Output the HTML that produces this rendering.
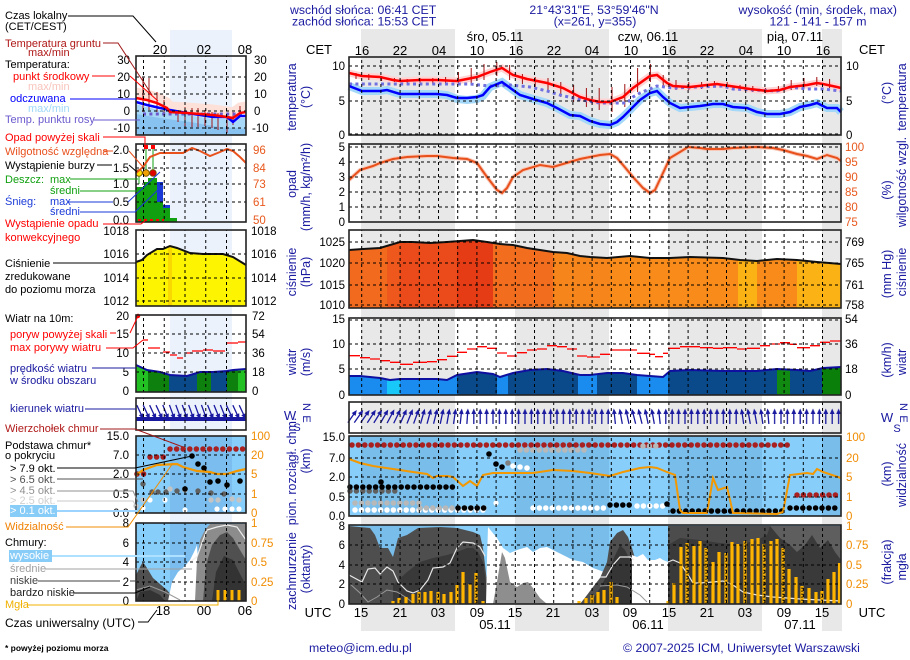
<!DOCTYPE html>
<html><head><meta charset="utf-8">
<style>
html,body{margin:0;padding:0;background:#fff;}
svg{display:block;font-family:"Liberation Sans",Arial,sans-serif;}
.lg{font-size:11px}
.tk{font-size:11.5px}
.ax{font-size:13px}
.hd{font-size:12.3px;fill:#1a1aa0}
.rt{font-size:12.5px;fill:#1a1aa0}
.og{fill:#f08c00}
.oh{fill:#e8581c}
</style></head><body>
<svg width="910" height="660" viewBox="0 0 910 660" xmlns="http://www.w3.org/2000/svg">
<defs>
 <pattern id="vg" x="361.2" y="0" width="19.2" height="6" patternUnits="userSpaceOnUse"><rect x="0" y="0" width="1" height="3" fill="#000"/></pattern>
 <pattern id="vgl" x="143" y="0" width="20.75" height="6" patternUnits="userSpaceOnUse"><rect x="0" y="0" width="1" height="3" fill="#000"/></pattern>
 <pattern id="av" x="349" y="402" width="6.4" height="31" patternUnits="userSpaceOnUse"><line x1="3.2" y1="9.5" x2="3.2" y2="22" stroke="#1a1aa0" stroke-width="1.3"/><path d="M3.2,6.5 L0.8,12 L5.6,12 z" fill="#1a1aa0"/></pattern>
 <g id="ar"><line x1="0" y1="7.5" x2="0" y2="-5" stroke="#1a1aa0" stroke-width="1.3"/><path d="M0,-8 L-2.4,-2.5 L2.4,-2.5z" fill="#1a1aa0"/></g>
 <clipPath id="cp"><polygon points="349,250 363,249 380,248 390,245 400,242 413,242 430,243 447,242 460,241 473,240 480,241 487,242 500,244 513,245 527,248 540,250 553,252 567,253 580,256 590,257 607,258 630,256 650,258 670,258 690,257 723,258 740,260 757,261 777,259 797,260 817,262 841,264 841,308 349,308"/></clipPath>
 <clipPath id="cw"><polygon points="349,376 360,376 380,378 390,380 400,379 420,379 437,379 447,380 457,375 477,372 493,374 500,377 513,373 530,370 547,369 563,371 580,375 590,375 607,373 623,373 637,375 650,376 663,377 670,371 690,370 723,371 757,371 777,369 797,370 810,371 823,368 841,367 841,395 349,395"/></clipPath>
 <clipPath id="clw"><polygon points="136,365 147,370 160,372 170,375 187,376 200,372 213,372 227,371 233,370 246,369 246,392 136,392"/></clipPath>
</defs>

<!-- background bands -->
<rect x="361" y="29" width="94" height="602" fill="#e8e8e8"/>
<rect x="515" y="29" width="94" height="602" fill="#e8e8e8"/>
<rect x="668" y="29" width="94" height="602" fill="#e8e8e8"/>
<rect x="822" y="29" width="20" height="602" fill="#e8e8e8"/>
<rect x="170" y="30" width="62" height="568" fill="#ebf2fc"/>

<!-- HEADER -->
<text class="hd" x="290" y="14">wschód słońca: 06:41 CET</text>
<text class="hd" x="292" y="25.5">zachód słońca: 15:53 CET</text>
<text class="hd" x="594" y="14" text-anchor="middle">21°43'31"E, 53°59'46"N</text>
<text class="hd" x="595" y="25.5" text-anchor="middle">(x=261,  y=355)</text>
<text class="hd" x="897" y="14" text-anchor="end">wysokość (min, środek, max)</text>
<text class="hd" x="818" y="25.5" text-anchor="middle">121 - 141 - 157 m</text>

<!-- top axis -->
<g class="ax" text-anchor="middle">
<text x="319" y="54">CET</text><text x="872" y="54">CET</text>
<text x="495" y="41">śro, 05.11</text><text x="648" y="41">czw, 06.11</text><text x="795" y="41">pią, 07.11</text>
<text x="362" y="55">16</text><text x="400" y="55">22</text><text x="439" y="55">04</text><text x="477" y="55">10</text><text x="516" y="55">16</text><text x="554" y="55">22</text><text x="592" y="55">04</text><text x="631" y="55">10</text><text x="669" y="55">16</text><text x="707" y="55">22</text><text x="746" y="55">04</text><text x="784" y="55">10</text><text x="823" y="55">16</text>
</g>

<!-- ========== MAIN P1 temperature ========== -->
<polyline fill="none" stroke="#ffd4d4" stroke-width="7" points="349,73 362,76 380,77 393,80 400,81 420,80 437,80 457,81 477,77 490,72 502,68 513,75 527,79 547,83 563,88 580,97 590,100 600,102 610,102 623,97 633,88 650,76 657,75 667,83 673,86 690,87 707,85 717,84 730,86 750,89 767,91 780,90 790,87 807,85 817,83 823,84 837,87 841,88"/>
<polyline fill="none" stroke="#a4d8f8" stroke-width="8" points="349,86 362,91 380,91 387,90 400,94 420,94 437,94 447,95 457,99 467,100 477,99 483,96 490,87 502,82 513,90 520,95 533,99 547,103 557,108 570,115 580,116 590,121 600,124 610,125 617,122 623,117 630,110 640,100 650,93 657,91 663,97 670,103 680,108 690,107 700,106 707,105 713,104 723,104 733,107 747,108 757,112 767,114 780,114 790,112 800,107 810,105 817,103 827,108 837,108 841,112"/>
<path fill="none" stroke="#a01010" stroke-width="1" d="M356 73V79M368.8 74V80M381.6 76V81M394.4 78V82M407.2 79V83M420 78V83M432.8 78V84M445.6 77V84M458.4 72V85M471.2 68V84M484 64V80M496.8 62V76M509.6 65V80M522.4 74V84M535.2 77V87M548 78V92M560.8 82V97M573.6 85V102M586.4 88V107M599.2 88V110M612 87V112M624.8 84V107M637.6 68V92M650.4 64V82M663.2 75V88M676 80V90M688.8 82V90M701.6 82V89M714.4 81V87M727.2 82V88M740 85V90M752.8 86V92M765.6 88V93M778.4 86V92M791.2 80V90M804 78V88M816.8 77V86M829.6 79V88"/>
<polyline fill="none" stroke="#7070e0" stroke-width="3" stroke-dasharray="3 3.4" points="349,84 470,84 490,86 510,85 530,87 547,91 560,95 573,98 587,101 600,103 627,103 633,97 640,93 657,86 673,88 723,86 733,89 777,91 790,87 807,89 823,89 841,91"/>
<polyline fill="none" stroke="#0000ff" stroke-width="2.5" points="349,86 362,91 380,91 387,90 400,94 420,94 437,94 447,95 457,98 467,98 477,97 483,95 490,87 502,82 513,90 520,95 533,99 547,103 557,108 570,115 580,116 590,121 600,124 610,125 617,122 623,117 630,110 640,100 650,93 657,91 663,97 670,103 680,108 690,107 700,106 707,105 713,104 723,104 733,107 747,108 757,112 767,114 780,114 790,112 800,107 810,105 817,103 827,108 837,108 841,112"/>
<polyline fill="none" stroke="#ff0000" stroke-width="2.5" points="349,73 362,76 380,77 393,80 400,81 420,80 437,80 457,81 477,77 490,72 502,68 513,75 527,79 547,83 563,88 580,97 590,100 600,102 610,102 623,97 633,88 650,76 657,75 667,83 673,86 690,87 707,85 717,84 730,86 750,89 767,91 780,90 790,87 807,85 817,83 823,84 837,87 841,88"/>

<!-- P2 humidity -->
<polyline fill="none" stroke="#f8c8b8" stroke-width="4" points="349,180 360,170 373,166 380,163 393,159 407,157 427,156 437,156 453,158 467,159 477,163 487,177 497,190 502,193 507,188 513,177 523,170 540,165 553,167 563,164 580,159 590,157 600,155 610,154 617,158 623,165 633,177 643,188 650,193 655,190 663,173 670,158 680,152 688,147 700,148 707,149 723,149 733,148 757,147 773,148 783,150 797,154 807,156 817,159 827,155 837,158 841,161"/>
<polyline fill="none" stroke="#e8501c" stroke-width="2" points="349,180 360,170 373,166 380,163 393,159 407,157 427,156 437,156 453,158 467,159 477,163 487,177 497,190 502,193 507,188 513,177 523,170 540,165 553,167 563,164 580,159 590,157 600,155 610,154 617,158 623,165 633,177 643,188 650,193 655,190 663,173 670,158 680,152 688,147 700,148 707,149 723,149 733,148 757,147 773,148 783,150 797,154 807,156 817,159 827,155 837,158 841,161"/>

<!-- P3 pressure -->
<g clip-path="url(#cp)">
<rect x="349" y="230" width="38" height="78" fill="#f26a1e"/>
<rect x="387" y="230" width="13" height="78" fill="#ee581c"/>
<rect x="400" y="230" width="57" height="78" fill="#eb4a1a"/>
<rect x="457" y="230" width="36" height="78" fill="#e63c16"/>
<rect x="493" y="230" width="60" height="78" fill="#f26e1e"/>
<rect x="553" y="230" width="57" height="78" fill="#f6861c"/>
<rect x="610" y="230" width="128" height="78" fill="#f98b1a"/>
<rect x="738" y="230" width="19" height="78" fill="#fbb214"/>
<rect x="757" y="230" width="40" height="78" fill="#f98b1a"/>
<rect x="797" y="230" width="44" height="78" fill="#fbb214"/>
</g>
<polyline fill="none" stroke="#111" stroke-width="2" points="349,250 363,249 380,248 390,245 400,242 413,242 430,243 447,242 460,241 473,240 480,241 487,242 500,244 513,245 527,248 540,250 553,252 567,253 580,256 590,257 607,258 630,256 650,258 670,258 690,257 723,258 740,260 757,261 777,259 797,260 817,262 841,264"/>

<!-- P4 wind -->
<g clip-path="url(#cw)">
<rect x="349" y="360" width="38" height="35" fill="#1a8cf0"/>
<rect x="387" y="360" width="13" height="35" fill="#18c8f8"/>
<rect x="400" y="360" width="57" height="35" fill="#1a8cf0"/>
<rect x="457" y="360" width="40" height="35" fill="#0a4a8a"/>
<rect x="497" y="360" width="11" height="35" fill="#1a8cf0"/>
<rect x="508" y="360" width="70" height="35" fill="#0a4a8a"/>
<rect x="578" y="360" width="19" height="35" fill="#1a8cf0"/>
<rect x="597" y="360" width="40" height="35" fill="#0a4a8a"/>
<rect x="637" y="360" width="31" height="35" fill="#1a8cf0"/>
<rect x="668" y="360" width="109" height="35" fill="#0a4a8a"/>
<rect x="777" y="360" width="13" height="35" fill="#108a10"/>
<rect x="790" y="360" width="32" height="35" fill="#0a4a8a"/>
<rect x="822" y="360" width="19" height="35" fill="#0a800a"/>
</g>
<polyline fill="none" stroke="#1010a0" stroke-width="2" points="349,376 360,376 380,378 390,380 400,379 420,379 437,379 447,380 457,375 477,372 493,374 500,377 513,373 530,370 547,369 563,371 580,375 590,375 607,373 623,373 637,375 650,376 663,377 670,371 690,370 723,371 757,371 777,369 797,370 810,371 823,368 841,367"/>
<path fill="none" stroke="#ff0000" stroke-width="1.3" d="M349 355.7H360M360 357.7H370M370 359H380M380 360.7H390M390 362.3H400M400 364.3H413M413 362.3H427M427 361.7H437M437 359.7H447M447 356.3H457M457 352.3H467M467 349H477M477 346.7H487M487 348.3H497M497 353H507M507 356H517M517 352.7H527M527 350H537M537 349H547M547 345.7H557M557 346.7H567M567 349H577M577 356H587M587 357H600M600 354.3H610M610 350H637M637 353.3H650M650 354.3H655M655 356.7H663M663 353.3H668M668 348.3H680M680 346.7H700M700 347.7H713M713 348.3H723M723 347.7H737M737 349H747M747 348.3H760M760 345.7H770M770 344H780M780 342.7H790M790 344.3H797M797 347.7H810M810 345.7H820M820 342.3H830M830 341H841"/>

<!-- P5 wind direction -->
<rect x="470.6" y="402" width="140.8" height="31" fill="url(#av)"/>
<rect x="662.6" y="402" width="76.8" height="31" fill="url(#av)"/>
<rect x="771.4" y="402" width="69.6" height="31" fill="url(#av)"/>
<use href="#ar" transform="translate(352.2,416.5) rotate(35)"/><use href="#ar" transform="translate(358.6,416.5) rotate(35)"/><use href="#ar" transform="translate(365,416.5) rotate(35)"/><use href="#ar" transform="translate(371.4,416.5) rotate(33)"/><use href="#ar" transform="translate(377.8,416.5) rotate(32)"/><use href="#ar" transform="translate(384.2,416.5) rotate(30)"/><use href="#ar" transform="translate(390.6,416.5) rotate(28)"/><use href="#ar" transform="translate(397,416.5) rotate(26)"/><use href="#ar" transform="translate(403.4,416.5) rotate(24)"/><use href="#ar" transform="translate(409.8,416.5) rotate(22)"/><use href="#ar" transform="translate(416.2,416.5) rotate(20)"/>
<use href="#ar" transform="translate(422.6,416.5) rotate(16)"/><use href="#ar" transform="translate(429,416.5) rotate(15)"/><use href="#ar" transform="translate(435.4,416.5) rotate(14)"/><use href="#ar" transform="translate(441.8,416.5) rotate(12)"/><use href="#ar" transform="translate(448.2,416.5) rotate(10)"/><use href="#ar" transform="translate(454.6,416.5) rotate(8)"/><use href="#ar" transform="translate(461,416.5) rotate(6)"/><use href="#ar" transform="translate(467.4,416.5) rotate(4)"/>
<use href="#ar" transform="translate(614.6,416.5) rotate(-6)"/><use href="#ar" transform="translate(621,416.5) rotate(-10)"/><use href="#ar" transform="translate(627.4,416.5) rotate(-12)"/><use href="#ar" transform="translate(633.8,416.5) rotate(-14)"/><use href="#ar" transform="translate(640.2,416.5) rotate(-14)"/><use href="#ar" transform="translate(646.6,416.5) rotate(-12)"/><use href="#ar" transform="translate(653,416.5) rotate(-10)"/><use href="#ar" transform="translate(659.4,416.5) rotate(-6)"/>
<use href="#ar" transform="translate(742.6,416.5) rotate(-8)"/><use href="#ar" transform="translate(749,416.5) rotate(-10)"/><use href="#ar" transform="translate(755.4,416.5) rotate(-10)"/><use href="#ar" transform="translate(761.8,416.5) rotate(-8)"/><use href="#ar" transform="translate(768.2,416.5) rotate(-5)"/>

<!-- P6 cloud base -->
<rect x="349" y="436" width="492" height="80" fill="#87cefa"/>
<g fill="#79bdea"><rect x="361" y="436" width="94" height="80"/><rect x="515" y="436" width="94" height="80"/><rect x="668" y="436" width="94" height="80"/><rect x="822" y="436" width="19" height="80"/></g>
<g fill="none" stroke-linecap="round" stroke-width="5.5" stroke-dasharray="0 6.4">
<line x1="352" y1="445" x2="790" y2="445" stroke="#a82020"/>
<line x1="797" y1="495" x2="841" y2="495" stroke="#a82020"/>
<line x1="355" y1="510" x2="485" y2="510" stroke="#ffffff"/>
<line x1="355" y1="503" x2="420" y2="503" stroke="#b8b8b8"/>
<line x1="420" y1="508" x2="489" y2="508" stroke="#b8b8b8"/>
<line x1="350" y1="491" x2="395" y2="491" stroke="#606060"/>
<line x1="350" y1="487" x2="458" y2="487" stroke="#000"/>
<line x1="458" y1="508" x2="484" y2="508" stroke="#000"/>
<line x1="520" y1="450" x2="586" y2="450" stroke="#b8b8b8"/>
<line x1="533" y1="508" x2="604" y2="508" stroke="#ffffff"/>
<line x1="610" y1="505" x2="630" y2="505" stroke="#000"/>
<line x1="637" y1="506" x2="663" y2="506" stroke="#ffffff"/>
<line x1="643" y1="446" x2="660" y2="446" stroke="#b8b8b8"/>
<line x1="673" y1="511" x2="784" y2="511" stroke="#000"/>
<line x1="790" y1="508" x2="841" y2="508" stroke="#000"/>
</g>
<g fill="#000"><circle cx="489" cy="454" r="2.8"/><circle cx="496" cy="464" r="2.8"/><circle cx="502" cy="467" r="2.8"/><circle cx="667" cy="504" r="2.8"/><circle cx="381" cy="482" r="2.8"/></g>
<circle cx="508" cy="463" r="2.8" fill="#808080"/>
<g fill="#fff"><circle cx="513" cy="466" r="2.8"/><circle cx="520" cy="467" r="2.8"/><circle cx="527" cy="468" r="2.8"/><circle cx="496" cy="503" r="2.6"/></g>
<polyline fill="none" stroke="#f39800" stroke-width="2" points="349,459 360,463 373,466 393,469 413,472 427,474 433,478 437,476 447,476 453,477 463,486 470,481 477,486 483,475 493,473 513,473 533,473 553,470 573,471 590,473 610,476 623,472 640,468 650,467 657,468 667,472 675,475 680,510 683,513 707,513 713,478 718,490 727,487 733,513 777,514 783,512 790,475 807,473 813,474 817,469 823,472 841,478"/>

<!-- P7 cloud cover -->
<rect x="349" y="525" width="492" height="79" fill="#87cefa"/>
<g fill="#79bdea"><rect x="361" y="525" width="94" height="79"/><rect x="515" y="525" width="94" height="79"/></g>
<polygon fill="#4e4e4e" points="349,526 370,528 375,535 380,548 388,548 393,557 398,538 407,535 418,528 440,527 457,528 473,532 480,535 483,548 487,582 488,604 349,604"/>
<polygon fill="#393939" points="393,604 393,585 407,572 420,562 433,558 447,555 457,552 467,548 473,548 478,552 483,562 487,590 488,604"/>
<polygon fill="#ffffff" points="486,604 487,560 488,527 492,532 497,538 503,548 510,553 517,550 527,547 533,552 540,548 547,547 557,552 567,557 573,560 583,562 593,568 607,573 607,604"/>
<polygon fill="#8e8e8e" points="493,604 497,582 502,552 505,558 510,582 517,587 523,583 528,582 533,588 540,598 547,604"/>
<polygon fill="#4e4e4e" points="580,604 587,595 593,587 600,578 607,562 610,542 617,533 623,530 628,537 632,548 637,565 640,582 643,595 647,604"/>
<polygon fill="#353535" points="590,604 600,588 607,575 613,560 620,545 625,550 630,560 635,575 640,592 642,604"/>
<polygon fill="#ffffff" points="632,604 632,555 637,557 643,554 648,560 655,560 660,558 663,560 668,562 668,604"/>
<rect x="668" y="526" width="173" height="78" fill="#3a3a3a"/>
<polygon fill="#4c4c4c" points="668,526 770,526 767,535 757,540 740,545 720,543 700,540 680,538 668,545"/>
<polygon fill="#5e5e5e" points="770,526 841,526 841,560 835,552 828,540 820,548 812,535 805,545 797,552 790,545 780,538"/>
<path fill="none" stroke="#e8e8e8" stroke-width="1.2" d="M349 575L362 582L368 569L375 568L380 574L387 567L393 571L398 582L407 591L413 593L420 590L428 580L433 568L443 567L450 563L457 548L463 542L473 543L480 547L485 556M600 577L606 577L613 565L620 557L630 557L634 560M668 562L673 560L680 563L687 573L693 583L700 583L713 582L723 581L733 585L743 592L757 595L773 597L787 598L800 599L841 601"/>
<path fill="none" stroke="#9a9a9a" stroke-width="1" d="M349 583L360 593L368 602L377 597L387 590L397 592L407 598L413 603M600 586L617 585L627 587L640 595L647 602"/>
<path fill="none" stroke="#ffb400" stroke-width="3.2" d="M393 604V601M399 604V598M406 604V597M413 604V594M419 604V592M425 604V592M431 604V591M438 604V592M444 604V594M451 604V592M457 604V585M463 604V572M470 604V584M476 604V573M483 604V601M579 604V601M586 604V598M592 604V595M598 604V592M604 604V590M611 604V582M617 604V597M668 604V601M674 604V583M681 604V547M687 604V543M694 604V546M700 604V541M706 604V548M713 604V562M719 604V552M726 604V553M732 604V542M738 604V544M745 604V541M752 604V539M758 604V538M764 604V544M771 604V541M777 604V539M783 604V548M789 604V569M796 604V577M802 604V586M809 604V588M816 604V592M822 604V591M828 604V579M834 604V572M839.5 604V563"/>
<path fill="none" stroke="#000" stroke-width="1" stroke-dasharray="1.5 1.5" d="M419 604V593M438 604V593M476 604V574M592 604V596M611 604V583M687 604V544M706 604V549M726 604V554M745 604V542M764 604V545M783 604V549M802 604V587M822 604V592"/>

<!-- main grids -->
<g>
<rect x="349" y="57" width="492" height="78" fill="url(#vg)"/>
<rect x="349" y="144" width="492" height="78" fill="url(#vg)"/>
<rect x="349" y="230" width="492" height="78" fill="url(#vg)"/>
<rect x="349" y="318" width="492" height="77" fill="url(#vg)"/>
<rect x="349" y="402" width="492" height="31" fill="url(#vg)"/>
<rect x="349" y="436" width="492" height="80" fill="url(#vg)"/>
<rect x="349" y="525" width="492" height="79" fill="url(#vg)"/>
</g>
<path fill="none" stroke="#000" stroke-width="1" stroke-dasharray="3 3" d="M349 66H841M349 101H841M349 134H841M349 147H841M349 162H841M349 177H841M349 192H841M349 207H841M349 242H841M349 263H841M349 285H841M349 305H841M349 320H841M349 344H841M349 369H841M349 458H841M349 477H841M349 497H841M349 545H841M349 565H841M349 584H841"/>
<g fill="none" stroke="#222" stroke-width="1.6">
<rect x="349" y="57" width="492" height="78"/>
<rect x="349" y="144" width="492" height="78"/>
<rect x="349" y="230" width="492" height="78"/>
<rect x="349" y="318" width="492" height="77"/>
<rect x="349" y="402" width="492" height="31"/>
<rect x="349" y="436" width="492" height="80"/>
<rect x="349" y="525" width="492" height="79"/>
</g>

<!-- main tick labels left -->
<g class="tk" text-anchor="end">
<text x="345" y="70">10</text><text x="345" y="105">5</text><text x="345" y="139">0</text>
<text x="345" y="151">5</text><text x="345" y="166">4</text><text x="345" y="181">3</text><text x="345" y="196">2</text><text x="345" y="211">1</text><text x="345" y="226">0</text>
<text x="345" y="246">1025</text><text x="345" y="267">1020</text><text x="345" y="289">1015</text><text x="345" y="309">1010</text>
<text x="345" y="323">15</text><text x="345" y="348">10</text><text x="345" y="373">5</text><text x="345" y="399">0</text>
<text x="345" y="441">15.0</text><text x="345" y="462">7.0</text><text x="345" y="481">2.0</text><text x="345" y="501">0.5</text><text x="345" y="520">0.0</text>
<text x="345" y="530">8</text><text x="345" y="549">6</text><text x="345" y="569">4</text><text x="345" y="588">2</text><text x="345" y="608">0</text>
</g>
<!-- main tick labels right -->
<g class="tk">
<text x="846" y="70">10</text><text x="846" y="105">5</text><text x="846" y="139">0</text>
<g class="oh"><text x="845" y="151">100</text><text x="845" y="166">95</text><text x="845" y="181">90</text><text x="845" y="196">85</text><text x="845" y="211">80</text><text x="845" y="226">75</text></g>
<text x="845" y="246">769</text><text x="845" y="267">765</text><text x="845" y="289">761</text><text x="845" y="309">758</text>
<text x="845" y="323">54</text><text x="845" y="348">36</text><text x="845" y="373">18</text><text x="845" y="399">0</text>
<g class="og"><text x="846" y="441">100</text><text x="846" y="462">20</text><text x="846" y="481">5</text><text x="846" y="501">1</text><text x="846" y="520">0</text>
<text x="846" y="530">1</text><text x="846" y="549">0.75</text><text x="846" y="569">0.5</text><text x="846" y="588">0.25</text><text x="846" y="608">0</text></g>
</g>

<!-- rotated titles left -->
<g class="rt" text-anchor="middle">
<text transform="translate(296,97) rotate(-90)">temperatura</text>
<text transform="translate(310,97) rotate(-90)">(°C)</text>
<text transform="translate(296,184) rotate(-90)">opad</text>
<text transform="translate(310,187) rotate(-90)">(mm/h, kg/m²/h)</text>
<text transform="translate(296,272) rotate(-90)">ciśnienie</text>
<text transform="translate(310,272) rotate(-90)">(hPa)</text>
<text transform="translate(296,362) rotate(-90)">wiatr</text>
<text transform="translate(310,362) rotate(-90)">(m/s)</text>
<text transform="translate(310,461) rotate(-90)">(km)</text>
<text transform="translate(310,569) rotate(-90)">(oktanty)</text>
</g>
<text class="rt" transform="translate(296,610) rotate(-90)">zachmurzenie&#160;&#160;pion. rozciągł. chm.</text>
<g class="rt" style="font-size:11px">
<text x="290" y="420" text-anchor="middle" style="font-size:13px">W</text>
<text transform="translate(303,407) rotate(90)" text-anchor="middle">N</text>
<text transform="translate(303,419) rotate(90)" text-anchor="middle">E</text>
<text x="297" y="431" text-anchor="middle">S</text>
</g>
<!-- rotated titles right -->
<g class="rt" text-anchor="middle">
<text transform="translate(906,97) rotate(-90)">temperatura</text>
<text transform="translate(891,93) rotate(-90)">(°C)</text>
<text transform="translate(906,182) rotate(-90)">wilgotność wzgl.</text>
<text transform="translate(891,190) rotate(-90)">(%)</text>
<text transform="translate(906,272) rotate(-90)">ciśnienie</text>
<text transform="translate(891,274) rotate(-90)">(mm Hg)</text>
<text transform="translate(906,362) rotate(-90)">wiatr</text>
<text transform="translate(891,360) rotate(-90)">(km/h)</text>
<text transform="translate(906,475) rotate(-90)">widzialność</text>
<text transform="translate(891,474) rotate(-90)">(km)</text>
<text transform="translate(906,567) rotate(-90)">mgła</text>
<text transform="translate(891,562) rotate(-90)">(frakcja)</text>
</g>
<g class="rt" style="font-size:11px">
<text x="887" y="422" text-anchor="middle" style="font-size:13px">W</text>
<text transform="translate(900,407) rotate(90)" text-anchor="middle">N</text>
<text transform="translate(900,419) rotate(90)" text-anchor="middle">E</text>
<text x="897" y="432" text-anchor="middle">S</text>
</g>

<!-- bottom axis -->
<g class="ax" text-anchor="middle">
<text x="318" y="617">UTC</text><text x="872" y="617">UTC</text>
<text x="361" y="617">15</text><text x="400" y="617">21</text><text x="438" y="617">03</text><text x="477" y="617">09</text><text x="515" y="617">15</text><text x="553" y="617">21</text><text x="592" y="617">03</text><text x="630" y="617">09</text><text x="669" y="617">15</text><text x="707" y="617">21</text><text x="745" y="617">03</text><text x="784" y="617">09</text><text x="822" y="617">15</text>
<text x="495" y="629">05.11</text><text x="648" y="629">06.11</text><text x="800" y="629">07.11</text>
</g>
<text class="hd" x="309" y="652">meteo@icm.edu.pl</text>
<text class="hd" x="623" y="652">© 2007-2025 ICM, Uniwersytet Warszawski</text>

<!-- ========== LEFT LEGEND PANELS ========== -->
<!-- L1 -->
<polygon fill="#a8d8f8" points="136,104 147,107 160,110 170,112 187,115 200,117 213,119 227,119 233,124 240,118 246,118 246,135 136,135"/>
<polygon fill="#88c2f0" points="136,114 160,118 190,122 220,127 246,129 246,135 136,135"/>
<polyline fill="none" stroke="#fde0d8" stroke-width="9" points="136,92 147,94 157,97 167,102 170,106 187,107 200,108 213,109 227,111 233,112 240,107 246,106"/>
<path fill="none" stroke="#a01818" stroke-width="1" d="M143 77V112M149 78V110M157 92V112M164 100V115M178 110V122M185 107V127M192 108V127M198 108V127M205 110V126M212 112V128M218 113V130M227 115V133M233 112V125M240 106V115"/>
<line x1="143" y1="114" x2="242" y2="114" stroke="#6a5acd" stroke-width="3" stroke-dasharray="3 3.4"/>
<polyline fill="none" stroke="#0000ff" stroke-width="2.5" points="136,102 147,105 160,108 170,110 187,113 200,115 213,117 227,117 233,122 240,116 246,116"/>
<polyline fill="none" stroke="#ff0000" stroke-width="2.5" points="136,98 147,100 157,103 167,108 170,112 187,113 200,114 213,115 227,117 233,118 240,113 246,112"/>
<!-- L2 -->
<g fill="#10a010"><rect x="136" y="187" width="8" height="35"/><rect x="144" y="182" width="4" height="40"/><rect x="148" y="178" width="9" height="44"/><rect x="157" y="202" width="6" height="20"/><rect x="163" y="208" width="7" height="14"/><rect x="170" y="218" width="7" height="4"/></g>
<g fill="#1a3ad8"><rect x="157" y="182" width="6" height="20"/><rect x="163" y="205" width="7" height="3"/></g>
<line x1="138" y1="220" x2="164" y2="220" stroke="#ff0000" stroke-width="2" stroke-dasharray="3 3"/>
<path stroke="#10a010" stroke-width="1" d="M146 149V170M153 149V170M139 176V184"/>
<g fill="#ff0000"><rect x="144" y="145" width="4" height="4"/><rect x="151" y="145" width="4" height="4"/></g>
<circle cx="139" cy="173" r="3.3" fill="#ffe000" stroke="#705000" stroke-width="0.8"/>
<circle cx="146" cy="173" r="3.3" fill="#f0a000" stroke="#705000" stroke-width="0.8"/>
<circle cx="153" cy="173" r="3.3" fill="#e00000" stroke="#705000" stroke-width="0.8"/>
<polyline fill="none" stroke="#e8501c" stroke-width="2" points="136,173 143,167 150,157 160,153 173,153 183,153 192,148 200,151 210,156 220,152 227,149 233,151 240,157 246,163"/>
<!-- L3 -->
<polygon fill="#fcf400" points="136,262 142,260 147,255 157,249 163,249 170,246 177,248 190,253 203,254 223,254 233,257 246,265 246,306 136,306"/>
<rect x="168" y="247" width="4" height="59" fill="#f8d800"/>
<polyline fill="none" stroke="#111" stroke-width="2" points="136,262 142,260 147,255 157,249 163,249 170,246 177,248 190,253 203,254 223,254 233,257 246,265"/>
<!-- L4 -->
<g clip-path="url(#clw)">
<rect x="136" y="360" width="12" height="32" fill="#22c022"/><rect x="148" y="360" width="21" height="32" fill="#0e800e"/><rect x="169" y="360" width="28" height="32" fill="#0a4a8a"/><rect x="197" y="360" width="14" height="32" fill="#0e800e"/><rect x="211" y="360" width="16" height="32" fill="#0a4a8a"/><rect x="227" y="360" width="11" height="32" fill="#0e800e"/><rect x="238" y="360" width="8" height="32" fill="#22c022"/>
</g>
<polyline fill="none" stroke="#1010a0" stroke-width="2" points="136,365 147,370 160,372 170,375 187,376 200,372 213,372 227,371 233,370 246,369"/>
<path fill="none" stroke="#ff0000" stroke-width="1.3" d="M143 340H148M148 348H160M163 352H170M170 355H177M177 358H183M185 353H192M192 351H203M203 350H213M213 351H225M227 343H238M238 342H246"/>
<circle cx="138" cy="316" r="2.2" fill="#ff0000"/>
<!-- L5 -->
<rect x="136" y="417" width="110" height="4" fill="#1a1aa0"/>
<g>
<use href="#ar" transform="translate(140,412) rotate(155)"/><use href="#ar" transform="translate(146.4,412) rotate(155)"/><use href="#ar" transform="translate(152.8,412) rotate(155)"/><use href="#ar" transform="translate(159.2,412) rotate(155)"/><use href="#ar" transform="translate(165.6,412) rotate(158)"/><use href="#ar" transform="translate(172,412) rotate(160)"/><use href="#ar" transform="translate(178.4,412) rotate(160)"/><use href="#ar" transform="translate(184.8,412) rotate(160)"/><use href="#ar" transform="translate(191.2,412) rotate(160)"/><use href="#ar" transform="translate(197.6,412) rotate(160)"/><use href="#ar" transform="translate(204,412) rotate(160)"/><use href="#ar" transform="translate(210.4,412) rotate(158)"/><use href="#ar" transform="translate(216.8,412) rotate(158)"/><use href="#ar" transform="translate(223.2,412) rotate(158)"/><use href="#ar" transform="translate(229.6,412) rotate(155)"/><use href="#ar" transform="translate(236,412) rotate(155)"/><use href="#ar" transform="translate(242.4,412) rotate(155)"/>
</g>
<!-- L6 -->
<rect x="136" y="436" width="110" height="77" fill="#87cefa"/>
<rect x="170" y="436" width="62" height="77" fill="#7abdee"/>
<g fill="none" stroke-linecap="round" stroke-width="5.5" stroke-dasharray="0 6.6">
<line x1="137" y1="474" x2="144" y2="474" stroke="#a82020"/>
<line x1="150" y1="457" x2="164" y2="457" stroke="#a82020"/>
<line x1="170" y1="449" x2="246" y2="449" stroke="#a82020"/>
</g>
<g fill="#606060"><circle cx="143" cy="484" r="2.7"/><circle cx="152" cy="492" r="2.7"/><circle cx="158" cy="492" r="2.7"/><circle cx="166" cy="492" r="2.7"/><circle cx="177" cy="491" r="2.7"/><circle cx="198" cy="491" r="2.7"/><circle cx="211" cy="493" r="2.7"/><circle cx="224" cy="494" r="2.7"/></g>
<g fill="#c4c4c4"><circle cx="136" cy="506" r="2.7"/><circle cx="143" cy="500" r="2.7"/><circle cx="170" cy="489" r="2.7"/><circle cx="185" cy="490" r="2.7"/><circle cx="211" cy="500" r="2.7"/><circle cx="218" cy="500" r="2.7"/><circle cx="232" cy="499" r="2.7"/><circle cx="239" cy="500" r="2.7"/></g>
<g fill="#fff"><circle cx="150" cy="500" r="2.6"/><circle cx="165" cy="500" r="2.6"/><circle cx="185" cy="510" r="2.6"/><circle cx="217" cy="509" r="2.6"/><circle cx="225" cy="509" r="2.6"/><circle cx="232" cy="509" r="2.6"/><circle cx="239" cy="509" r="2.6"/><circle cx="143" cy="508" r="2.6"/></g>
<g fill="#000"><circle cx="192" cy="456" r="2.8"/><circle cx="198" cy="464" r="2.8"/><circle cx="204" cy="468" r="2.8"/><circle cx="218" cy="481" r="2.8"/><circle cx="227" cy="485" r="2.8"/><circle cx="240" cy="481" r="2.8"/><circle cx="185" cy="489" r="2.8"/><circle cx="210" cy="482" r="2.8"/></g>
<polyline fill="none" stroke="#f39800" stroke-width="2.2" points="136,475 143,470 157,465 177,464 183,467 197,471 210,472 217,474 227,474 237,471 246,469"/>
<!-- L7 -->
<rect x="136" y="523" width="110" height="78" fill="#87cefa"/>
<rect x="170" y="523" width="62" height="78" fill="#7abdee"/>
<polygon fill="#505050" points="136,601 136,575 141,565 143,562 147,568 153,578 160,584 167,590 173,597 176,601"/>
<polygon fill="#333" points="136,601 140,592 150,590 160,595 165,601"/>
<polygon fill="#ffffff" points="168,601 172,582 178,572 185,566 190,560 194,552 197,545 200,601"/>
<polygon fill="#8c8c8c" points="195,601 197,560 200,540 205,530 210,524 246,524 246,601"/>
<polygon fill="#505050" points="203,601 206,565 212,545 220,535 227,532 233,538 240,550 246,560 246,601"/>
<polygon fill="#333" points="212,601 216,572 224,556 233,560 240,574 246,585 246,601"/>
<polyline fill="none" stroke="#eee" stroke-width="1.2" points="190,562 197,557 203,540 207,530 217,527 227,525 237,527 246,540"/>
<polyline fill="none" stroke="#999" stroke-width="1" points="136,590 150,586 165,592 180,600"/>
<path fill="none" stroke="#ffb400" stroke-width="3" d="M218 601V590M225 601V590M232 601V590M239 601V590"/>

<!-- left grids -->
<rect x="136" y="56" width="110" height="79" fill="url(#vgl)"/>
<rect x="136" y="144" width="110" height="78" fill="url(#vgl)"/>
<rect x="136" y="230" width="110" height="76" fill="url(#vgl)"/>
<rect x="136" y="315" width="110" height="77" fill="url(#vgl)"/>
<rect x="136" y="398" width="110" height="32" fill="url(#vgl)"/>
<rect x="136" y="436" width="110" height="77" fill="url(#vgl)"/>
<rect x="136" y="523" width="110" height="78" fill="url(#vgl)"/>
<path fill="none" stroke="#000" stroke-width="1" stroke-dasharray="3 3" d="M136 77H246M136 94H246M136 111H246M136 128H246M136 150H246M136 168H246M136 184H246M136 202H246M136 254H246M136 278H246M136 301H246M136 334H246M136 353H246M136 372H246M136 455H246M136 474H246M136 494H246M136 543H246M136 562H246M136 582H246"/>
<g fill="none" stroke="#222" stroke-width="1.6">
<rect x="136" y="56" width="110" height="79"/>
<rect x="136" y="144" width="110" height="78"/>
<rect x="136" y="230" width="110" height="76"/>
<rect x="136" y="315" width="110" height="77"/>
<rect x="136" y="398" width="110" height="32"/>
<rect x="136" y="436" width="110" height="77"/>
<rect x="136" y="523" width="110" height="78"/>
</g>

<!-- left tick labels -->
<g class="tk" text-anchor="end">
<text x="130" y="64">30</text><text x="130" y="81">20</text><text x="130" y="98">10</text><text x="130" y="115">0</text><text x="130" y="132">-10</text>
<text x="129" y="154">2.0</text><text x="129" y="172">1.5</text><text x="129" y="188">1.0</text><text x="129" y="206">0.5</text><text x="129" y="224">0.0</text>
<text x="129" y="235">1018</text><text x="129" y="258">1016</text><text x="129" y="282">1014</text><text x="129" y="305">1012</text>
<text x="129" y="320">20</text><text x="129" y="338">15</text><text x="129" y="357">10</text><text x="129" y="376">5</text><text x="129" y="395">0</text>
<text x="129" y="440">15.0</text><text x="129" y="459">7.0</text><text x="129" y="478">2.0</text><text x="129" y="498">0.5</text><text x="129" y="517">0.0</text>
<text x="129" y="527">8</text><text x="129" y="547">6</text><text x="129" y="566">4</text><text x="129" y="586">2</text><text x="129" y="605">0</text>
</g>
<g class="tk">
<text x="254" y="64">30</text><text x="254" y="81">20</text><text x="254" y="98">10</text><text x="254" y="115">0</text><text x="252" y="132">-10</text>
<g class="oh"><text x="253" y="154">96</text><text x="253" y="172">84</text><text x="253" y="188">73</text><text x="253" y="206">61</text><text x="253" y="224">50</text></g>
<text x="251" y="235">1018</text><text x="251" y="258">1016</text><text x="251" y="282">1014</text><text x="251" y="305">1012</text>
<text x="252" y="320">72</text><text x="252" y="338">54</text><text x="252" y="357">36</text><text x="252" y="376">18</text><text x="252" y="395">0</text>
<g class="og"><text x="251" y="440">100</text><text x="251" y="459">20</text><text x="251" y="478">5</text><text x="251" y="498">1</text><text x="251" y="517">0</text>
<text x="251" y="527">1</text><text x="251" y="547">0.75</text><text x="251" y="566">0.5</text><text x="251" y="586">0.25</text><text x="251" y="605">0</text></g>
</g>
<g class="ax" text-anchor="middle">
<text x="160" y="54">20</text><text x="204" y="54">02</text><text x="245" y="54">08</text>
<text x="163" y="615">18</text><text x="204" y="615">00</text><text x="245" y="615">06</text>
</g>

<!-- leader lines -->
<g fill="none" stroke-width="1">
<path stroke="#000" d="M68 16H133L156 42"/>
<path stroke="#a01818" d="M103 43H118L152 95"/>
<path stroke="#ff0000" d="M92 76H115M130 76L158 101"/>
<path stroke="#0000ff" d="M70 99H136"/>
<path stroke="#6a5acd" d="M94 120H140"/>
<path stroke="#ff0000" d="M103 137H145V145"/>
<path stroke="#e8501c" d="M103 151H113M129 151L143 167"/>
<path stroke="#000" d="M97 165H112M129 165L137 172"/>
<path stroke="#10a010" d="M70 179H138M80 191H150"/>
<path stroke="#1a3ad8" d="M68 202H113M128 202L160 172M80 212H135L163 185"/>
<path stroke="#ff0000" d="M103 224H141L145 221"/>
<path stroke="#000" d="M53 263H136"/>
<path stroke="#ff0000" d="M110 333H116M130 333L138 316M106 348H133L143 340"/>
<path stroke="#1a1aa0" d="M92 368H136M85 409H136"/>
<path stroke="#a01818" d="M100 429H135L183 447"/>
<path stroke="#000" d="M57 468H135L192 456"/>
<path stroke="#505050" d="M57 479H143"/>
<path stroke="#909090" d="M57 491H133L138 502"/>
<path stroke="#c8c8c8" d="M57 501H133L136 506"/>
<path stroke="#9ad4ff" stroke-width="2" d="M57 511H137"/>
<path stroke="#f08c00" d="M66 527H128L173 463"/>
<path stroke="#aee0ff" stroke-width="2" d="M52 556H185"/>
<path stroke="#a0a0a0" d="M45 569H192"/>
<path stroke="#404040" d="M38 581H120M130 581H138"/>
<path stroke="#000" d="M73 593H135L150 587"/>
<path stroke="#f0b000" d="M27 605H218V592"/>
<path stroke="#000" d="M138 622H148L157 610"/>
</g>

<!-- legend text -->
<g class="lg">
<text x="5" y="19">Czas lokalny</text>
<text x="5" y="30">(CET/CEST)</text>
<text x="5" y="47" fill="#b01818">Temperatura gruntu</text>
<text x="28" y="56" fill="#b01818">max/min</text>
<text x="5" y="68">Temperatura:</text>
<text x="13" y="80" fill="#ff0000">punkt środkowy</text>
<text x="28" y="90" fill="#f8c4bc">max/min</text>
<text x="10" y="102" fill="#0000ff">odczuwana</text>
<text x="28" y="112" fill="#a0d8f8">max/min</text>
<text x="5" y="123" fill="#6a5acd">Temp. punktu rosy</text>
<text x="5" y="141" fill="#ff0000">Opad powyżej skali</text>
<text x="5" y="155" fill="#e8501c">Wilgotność względna</text>
<text x="5" y="169">Wystąpienie burzy</text>
<text x="5" y="183" fill="#10a010">Deszcz:</text><text x="50" y="183" fill="#10a010">max</text>
<text x="50" y="194" fill="#10a010">średni</text>
<text x="5" y="205" fill="#1a3ad8">Śnieg:</text><text x="50" y="205" fill="#1a3ad8">max</text>
<text x="50" y="215" fill="#1a3ad8">średni</text>
<text x="5" y="227" fill="#ff0000">Wystąpienie opadu</text>
<text x="5" y="241" fill="#ff0000">konwekcyjnego</text>
<text x="5" y="267">Ciśnienie</text>
<text x="5" y="280">zredukowane</text>
<text x="5" y="293">do poziomu morza</text>
<text x="5" y="322">Wiatr na 10m:</text>
<text x="10" y="338" fill="#ff0000">poryw powyżej skali</text>
<text x="10" y="351" fill="#ff0000">max porywy wiatru</text>
<text x="10" y="372" fill="#1a1aa0">prędkość wiatru</text>
<text x="10" y="384" fill="#1a1aa0">w środku obszaru</text>
<text x="10" y="412" fill="#1a1aa0">kierunek wiatru</text>
<text x="5" y="432" fill="#b01818">Wierzchołek chmur</text>
<text x="5" y="449">Podstawa chmur*</text>
<text x="5" y="459">o pokryciu</text>
<text x="10" y="472">&gt; 7.9 okt.</text>
<text x="10" y="483" fill="#505050">&gt; 6.5 okt.</text>
<text x="10" y="494" fill="#909090">&gt; 4.5 okt.</text>
<text x="10" y="504" fill="#d0d0d0">&gt; 2.5 okt.</text>
<rect x="10" y="505" width="47" height="12" fill="#88ccf8"/>
<text x="10" y="514" fill="#ffffff">&gt; 0.1 okt.</text>
<text x="5" y="530" fill="#f08000">Widzialność</text>
<text x="5" y="546">Chmury:</text>
<rect x="9" y="550" width="43" height="12" fill="#88ccf8"/>
<text x="10" y="559" fill="#ffffff">wysokie</text>
<text x="10" y="572" fill="#a0a0a0">średnie</text>
<text x="10" y="584" fill="#404040">niskie</text>
<text x="10" y="596" fill="#202020">bardzo niskie</text>
<text x="5" y="608" fill="#f0b000">Mgła</text>
</g>
<text x="5" y="627" style="font-size:12px">Czas uniwersalny (UTC)</text>
<text x="5" y="651" style="font-size:8.5px;font-weight:bold">* powyżej poziomu morza</text>
</svg>
</body></html>
